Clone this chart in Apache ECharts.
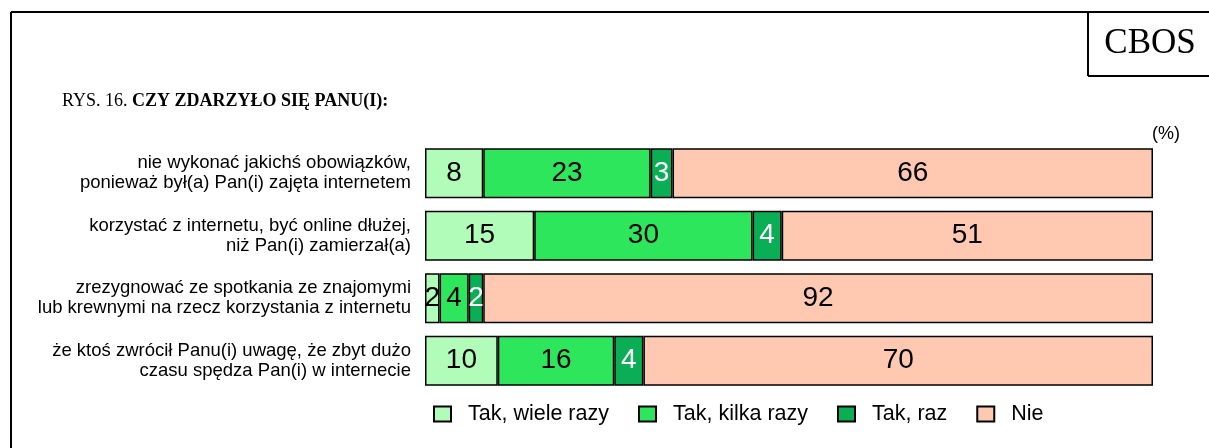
<!DOCTYPE html>
<html>
<head>
<meta charset="utf-8">
<script src="https://cdn.jsdelivr.net/npm/echarts@6/dist/echarts.min.js"></script>
<style>
html,body{margin:0;padding:0;background:#fff;}
#chart{width:1209px;height:448px;}
</style>
</head>
<body>
<div id="chart"></div>
<script>
const categories = [
  'nie wykonać jakichś obowiązków,\nponieważ był(a) Pan(i) zajęta internetem',
  'korzystać z internetu, być online dłużej,\nniż Pan(i) zamierzał(a)',
  'zrezygnować ze spotkania ze znajomymi\nlub krewnymi na rzecz korzystania z internetu',
  'że ktoś zwrócił Panu(i) uwagę, że zbyt dużo\nczasu spędza Pan(i) w internecie'
];
const seriesNames = ['Tak, wiele razy', 'Tak, kilka razy', 'Tak, raz', 'Nie'];
const wieleRazy = [8, 15, 2, 10];
const kilkaRazy = [23, 30, 4, 16];
const raz = [3, 4, 2, 4];
const nie = [66, 51, 92, 70];

const colors = ['#B0FCB8', '#2EE65C', '#0AAF55', '#FFC8B0'];
const labelColors = ['#000', '#000', '#fff', '#000'];
const values = [wieleRazy, kilkaRazy, raz, nie];

const chart = echarts.init(document.getElementById('chart'));
chart.setOption({
  animation: false,
  backgroundColor: '#fff',
  title: {
    text: '{a|RYS. 16. }{b|CZY ZDARZYŁO SIĘ PANU(I):}',
    left: 62, top: 92, padding: 0,
    textStyle: {
      fontWeight: 'normal',
      rich: {
        a: {fontFamily: 'Liberation Serif', fontSize: 18, fontWeight: 'normal', color: '#000'},
        b: {fontFamily: 'Liberation Serif', fontSize: 18, fontWeight: 'bold', color: '#000'}
      }
    }
  },
  graphic: [
    {type: 'line', shape: {x1: 11, y1: 12, x2: 1209, y2: 12}, style: {stroke: '#000', lineWidth: 2}},
    {type: 'line', shape: {x1: 11, y1: 12, x2: 11, y2: 448}, style: {stroke: '#000', lineWidth: 2}},
    {type: 'line', shape: {x1: 1088, y1: 12, x2: 1088, y2: 76}, style: {stroke: '#000', lineWidth: 2}},
    {type: 'line', shape: {x1: 1088, y1: 76, x2: 1209, y2: 76}, style: {stroke: '#000', lineWidth: 2}},
    {type: 'text', x: 1150, y: 44, style: {text: 'CBOS', font: '35px "Liberation Serif"', fill: '#000', align: 'center', verticalAlign: 'middle'}},
    {type: 'text', left: 1152, top: 125, style: {text: '(%)', font: '18px "Liberation Sans"', fill: '#000'}}
  ],
  legend: {
    left: 433, top: 403, padding: 0,
    itemWidth: 17, itemHeight: 15, itemGap: 29,
    icon: 'rect',
    textStyle: {fontFamily: 'Liberation Sans', fontSize: 21.5, color: '#000', padding: [0, 0, 0, 12]},
    data: seriesNames
  },
  grid: {left: 425, right: 56, top: 142, height: 250},
  xAxis: {type: 'value', min: 0, max: 100, show: false},
  yAxis: {
    type: 'category', data: categories, inverse: true,
    axisLine: {show: false}, axisTick: {show: false},
    axisLabel: {fontFamily: 'Liberation Sans', fontSize: 18.5, lineHeight: 20, color: '#000', align: 'right', margin: 14}
  },
  series: seriesNames.map((name, i) => ({
    name: name, type: 'bar', stack: 'total', barWidth: 50,
    data: values[i],
    itemStyle: {color: colors[i], borderColor: '#000', borderWidth: 1.5},
    label: {show: true, position: 'inside', fontFamily: 'Liberation Sans', fontSize: 28, color: labelColors[i]}
  }))
});
</script>
</body>
</html>
